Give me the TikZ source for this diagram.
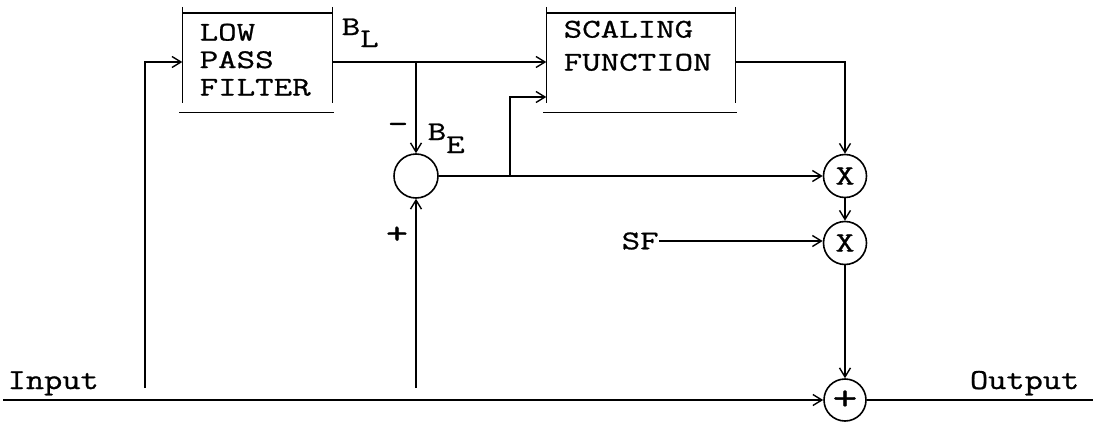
\documentclass[tikz,border=0pt]{standalone}
\usepackage{fontspec}
\newfontfamily\tw{Latin Modern Mono}[FakeStretch=1.33,FakeBold=0.9]
\newfontfamily\twb{Latin Modern Mono}[FakeStretch=1.22,FakeBold=0.9]
\usetikzlibrary{arrows.meta,calc}
\begin{document}
\begin{tikzpicture}[x=1pt,y=-1pt,line width=1.4pt,
  >={Straight Barb[length=9pt,width=11pt,line width=1.4pt]},
  txt/.style={font=\tw\fontsize{27}{27.5}\selectfont, inner sep=0pt},
  blk/.style={minimum width=#1, minimum height=97pt, inner sep=0pt},
  junc/.style={circle, draw, line width=1.6pt, minimum size=#1, inner sep=0pt, font=\tw\fontsize{28}{28}\selectfont}]
\useasboundingbox (0,0) rectangle (1093,423);
% blocks
\node[blk=149pt] (lpf) at (257.5,62) {};
\node[blk=188pt] (scal) at (641,62) {};
\foreach \b in {lpf,scal}{
  \draw (\b.north west) -- (\b.north east);
  \draw ([xshift=-3pt,yshift=-1pt]\b.south west) -- ([xshift=1pt,yshift=-1pt]\b.south east);
  \draw ([yshift=6pt]\b.north west) -- ([yshift=8pt]\b.south west);
  \draw ([yshift=6pt]\b.north east) -- ([yshift=8pt]\b.south east);
}
\node[txt, anchor=north west, align=left] (lpftxt) at (199,23) {LOW\\PASS\\FILTER};
\node[txt, anchor=north west, align=left, font=\tw\fontsize{27}{33}\selectfont] (scaltxt) at (563,20) {SCALING\\FUNCTION};
% junctions
\node[junc=44pt] (sum) at (416,176) {};
\node[junc=43pt] (x1) at (845,176) {X};
\node[junc=43pt] (x2) at (845,243) {X};
\node[junc=42pt, font=\tw\fontsize{36}{36}\selectfont] (plus) at (845,400) {+};
% labels
\node[txt, anchor=base west] (bl) at (341,35) {B\raisebox{-12pt}{L}};
\node[txt, anchor=base west] (be) at (427,140) {B\raisebox{-13pt}{E}};
\node[txt, font=\tw\fontsize{30}{30}\selectfont] (minus) at (398,128) {-};
\node[txt, font=\tw\fontsize{32}{32}\selectfont] (plussign) at (397,235) {+};
\node[txt, anchor=west] (sf) at (621,241) {SF};
\node[txt, anchor=base west, font=\twb\fontsize{29}{29}\selectfont] (inp) at (7,389) {Input};
\node[txt, anchor=base east, font=\twb\fontsize{29}{29}\selectfont] (outp) at (1080,389) {Output};
% coordinates
\coordinate (inL) at (3,400);
\coordinate (outR) at (1093,400);
\coordinate (tapA) at (145,388);
\coordinate (tapB) at (416,388);
\coordinate (jBL) at (416,62);
\coordinate (jS) at (510,176);
% connectors
\draw[->] (inL) -- (plus.west);
\draw (plus.east) -- (outR);
\draw[->] (tapA) |- (lpf.west);
\draw[->] (lpf.east) -- (scal.west);
\draw[->] (jBL) -- (sum.north);
\draw[->] (tapB) -- (sum.south);
\draw[->] (sum.east) -- (x1.west);
\draw[->] (jS) |- ([yshift=-35pt]scal.west);
\draw[->] (scal.east) -| (x1.north);
\draw[->] (x1.south) -- (x2.north);
\draw[->] (sf.east) -- (sf.east -| x2.west);
\draw[->] (x2.south) -- (plus.north);
\end{tikzpicture}
\end{document}
